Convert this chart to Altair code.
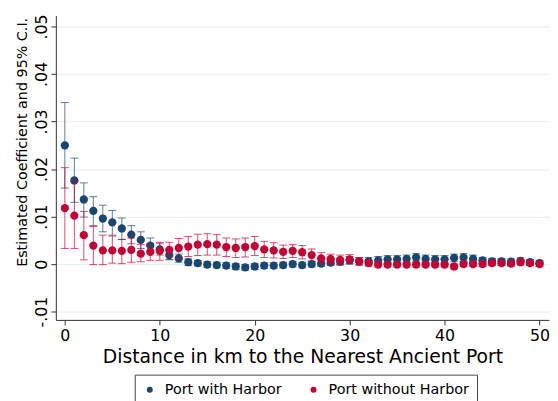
import altair as alt
import pandas as pd

dist = list(range(51))

blue_coef = [.0250, .0176, .0136, .0112, .0096, .0088, .0075, .0062, .0051, .0039,
             .0031, .0019, .0012, .0004, .0002, -.0001, -.0002, -.0003, -.0005, -.0007,
             -.0005, -.0003, -.0003, -.0002, .0000, -.0002, .0000, .0001, .0003, .0005,
             .0008, .0006, .0006, .0008, .0010, .0010, .0011, .0014, .0011, .0010,
             .0010, .0013, .0014, .0011, .0008, .0006, .0006, .0005, .0007, .0004,
             .0002]
blue_lo = [.0160, .0130, .0099, .0081, .0068, .0061, .0052, .0043, .0033, .0024,
           .0019, .0009, .0004, -.0003, -.0004, -.0007, -.0008, -.0009, -.0011, -.0013,
           -.0011, -.0009, -.0009, -.0008, -.0006, -.0008, -.0006, -.0005, -.0003, -.0002,
           .0000, -.0002, -.0002, .0000, .0002, .0002, .0003, .0006, .0003, .0002,
           .0002, .0005, .0006, .0003, .0002, .0000, .0000, -.0001, .0001, -.0002,
           -.0004]
blue_hi = [.0340, .0223, .0171, .0142, .0124, .0113, .0097, .0081, .0068, .0055,
           .0044, .0029, .0021, .0011, .0008, .0005, .0004, .0003, .0001, -.0001,
           .0001, .0003, .0003, .0004, .0006, .0004, .0006, .0007, .0009, .0012,
           .0016, .0014, .0014, .0016, .0018, .0018, .0019, .0022, .0019, .0018,
           .0018, .0021, .0022, .0019, .0014, .0012, .0012, .0011, .0013, .0010,
           .0008]

red_coef = [.0118, .0102, .0061, .0039, .0029, .0029, .0028, .0030, .0022, .0026,
            .0028, .0030, .0034, .0037, .0041, .0042, .0041, .0036, .0034, .0036,
            .0038, .0031, .0029, .0026, .0028, .0025, .0019, .0012, .0011, .0009,
            .0010, .0006, .0002, -.0001, -.0001, -.0001, -.0001, -.0001, -.0001, -.0001,
            -.0001, -.0005, .0000, .0000, .0000, .0002, .0002, .0001, .0004, .0002,
            .0000]
red_lo = [.0033, .0033, .0009, -.0001, -.0001, .0002, .0001, .0004, .0005, .0008,
          .0008, .0010, .0013, .0016, .0018, .0019, .0019, .0016, .0014, .0015,
          .0018, .0014, .0013, .0012, .0014, .0011, .0006, .0001, .0000, -.0001,
          .0001, -.0002, -.0004, -.0006, -.0006, -.0006, -.0006, -.0006, -.0006, -.0006,
          -.0006, -.0010, -.0005, -.0005, -.0005, -.0003, -.0003, -.0004, -.0001, -.0003,
          -.0005]
red_hi = [.0203, .0175, .0111, .0079, .0061, .0059, .0052, .0055, .0041, .0043,
          .0046, .0046, .0054, .0058, .0063, .0064, .0062, .0055, .0053, .0055,
          .0058, .0048, .0045, .0040, .0041, .0039, .0032, .0024, .0021, .0019,
          .0020, .0014, .0008, .0004, .0004, .0004, .0004, .0004, .0004, .0004,
          .0004, .0000, .0005, .0005, .0005, .0007, .0007, .0006, .0009, .0007,
          .0005]

series_names = ["Port with Harbor", "Port without Harbor"]
series_colors = ["#1a476f", "#c10534"]
x_ticks = [0, 10, 20, 30, 40, 50]
y_ticks = [-0.01, 0.0, 0.01, 0.02, 0.03, 0.04, 0.05]
y_tick_labels = ["-.01", "0", ".01", ".02", ".03", ".04", ".05"]

rows = []
for name, cs, ls, hs in [(series_names[0], blue_coef, blue_lo, blue_hi),
                         (series_names[1], red_coef, red_lo, red_hi)]:
    for d, c, lo, hi in zip(dist, cs, ls, hs):
        rows.append({"dist": d, "series": name, "coef": c, "lo": lo, "hi": hi})
df = pd.DataFrame(rows)

# label expression built from the tick/label lists
expr = "''"
for v, lab in reversed(list(zip(y_ticks, y_tick_labels))):
    expr = f"(abs(datum.value - ({v})) < 0.001 ? '{lab}' : {expr})"

FONT = "DejaVu Sans"
xscale = alt.Scale(domain=[-0.95, 51], nice=False, zero=False)
yscale = alt.Scale(domain=[-0.01174, 0.0523], nice=False, zero=False)
cscale = alt.Scale(domain=series_names, range=series_colors)

x_axis = alt.Axis(values=x_ticks, title="Distance in km to the Nearest Ancient Port",
                  grid=False, labelFontSize=16, titleFontSize=19, labelFont=FONT,
                  titleFont=FONT, titleFontWeight="normal", labelColor="#000",
                  titleColor="#000", tickSize=5, tickColor="#333", domainColor="#333",
                  labelPadding=3, titlePadding=4, labelFlush=False)
y_axis = alt.Axis(values=y_ticks, title="Estimated Coefficient and 95% C.I.",
                  grid=True, gridColor="#e6eef0", gridWidth=1,
                  labelExpr=expr,
                  labelAngle=270, labelAlign="center", labelBaseline="alphabetic",
                  labelFontSize=16, labelFont=FONT, labelColor="#000", labelPadding=4,
                  titleFontSize=14.5, titleFont=FONT, titleFontWeight="normal",
                  titleColor="#000", titleAngle=270, titleX=-29.5, titleY=128,
                  titleAlign="center", titleBaseline="alphabetic",
                  tickSize=5, tickColor="#333", domainColor="#333", labelFlush=False)
legend = alt.Legend(
    orient="none", legendX=80, legendY=364, direction="horizontal",
    title=None, strokeColor="#444", fillColor="white", padding=8,
    labelFontSize=14.5, labelFont=FONT, labelColor="#000",
    symbolSize=36, symbolType="circle", symbolStrokeWidth=0, symbolOpacity=1,
    columnPadding=24, labelOffset=8)

X = alt.X("dist:Q", scale=xscale, axis=x_axis)
C = alt.Color("series:N", scale=cscale, legend=legend)


def Y(field):
    return alt.Y(field, type="quantitative", scale=yscale, axis=y_axis)


layers = []
for name in series_names:
    base = alt.Chart(df).transform_filter(alt.datum.series == name)
    rule = base.mark_rule(strokeWidth=1, opacity=0.7).encode(
        x=X, y=Y("lo"), y2="hi:Q", color=C)
    cap_lo = base.mark_tick(orient="horizontal", size=8, thickness=1, opacity=0.7).encode(
        x=X, y=Y("lo"), color=C)
    cap_hi = base.mark_tick(orient="horizontal", size=8, thickness=1, opacity=0.7).encode(
        x=X, y=Y("hi"), color=C)
    pts = base.mark_point(filled=True, shape="circle", size=70, opacity=1).encode(
        x=X, y=Y("coef"), color=C)
    layers += [rule, cap_lo, cap_hi, pts]

chart = alt.layer(*layers).properties(
    width=500, height=308.5,
    autosize=alt.AutoSizeParams(type="none"),
    padding={"left": 48.5, "top": 5, "right": 1, "bottom": 79.5},
    background="white",
).configure_view(stroke=None)

chart.save("out.html", embed_options={"renderer": "svg", "actions": False})
